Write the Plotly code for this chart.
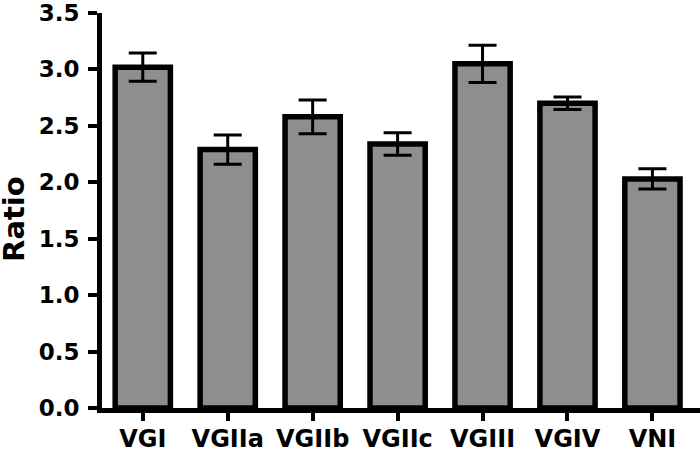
import plotly.graph_objects as go

categories = ["VGI", "VGIIa", "VGIIb", "VGIIc", "VGIII", "VGIV", "VNI"]
ratio_mean = [3.02, 2.29, 2.58, 2.34, 3.05, 2.70, 2.03]
ratio_err = [0.125, 0.13, 0.15, 0.10, 0.165, 0.055, 0.09]
y_ticks = [0.0, 0.5, 1.0, 1.5, 2.0, 2.5, 3.0, 3.5]

FONT = "DejaVu Sans"

fig = go.Figure(
    go.Bar(
        x=list(range(len(categories))),
        y=ratio_mean,
        width=0.65,
        marker=dict(color="#8e8e8e", line=dict(color="black", width=5.5)),
        error_y=dict(type="data", array=ratio_err, visible=True,
                     color="black", thickness=3, width=14),
    )
)

fig.update_layout(
    width=700, height=455,
    margin=dict(l=102, r=0, t=13, b=46.5),
    plot_bgcolor="white", paper_bgcolor="white",
    showlegend=False,
    font=dict(family=FONT, color="black"),
    annotations=[dict(
        text="<b>Ratio</b>", textangle=-90,
        xref="paper", yref="paper", x=-0.147, y=0.479,
        xanchor="center", yanchor="middle", showarrow=False,
        font=dict(family=FONT, size=29, color="black"),
    )],
)
fig.update_xaxes(
    range=[-0.48, 6.56],
    tickmode="array", tickvals=list(range(len(categories))), ticktext=categories,
    showline=True, linecolor="black", linewidth=5,
    ticks="outside", ticklen=8, tickwidth=4, tickcolor="black",
    showgrid=False, zeroline=False,
    tickfont=dict(family=FONT, size=24, color="black", weight="bold"),
    ticklabelstandoff=-3,
)
fig.update_yaxes(
    range=[0, 3.5],
    tickmode="array", tickvals=y_ticks, ticktext=[f"{v:.1f}" for v in y_ticks],
    showline=True, linecolor="black", linewidth=5,
    ticks="outside", ticklen=9, tickwidth=4, tickcolor="black",
    showgrid=False, zeroline=False,
    tickfont=dict(family=FONT, size=23, color="black", weight="bold"),
    ticklabelstandoff=4,
)

# remove the browser's default 8px body margin so the figure fills the window exactly
fig.write_html("out.html", config={"displayModeBar": False},
               post_script="document.body.style.margin='0';")
